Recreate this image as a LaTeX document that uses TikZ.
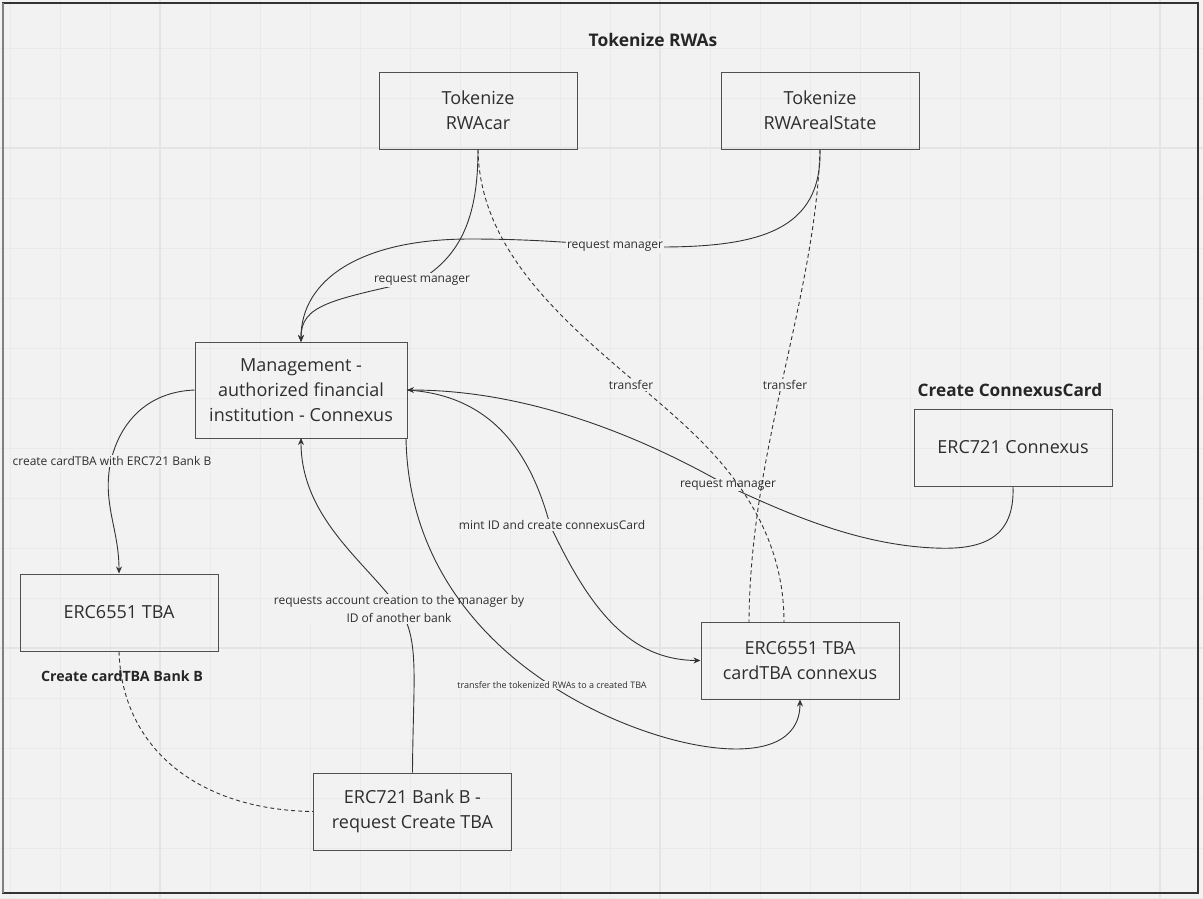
\documentclass[tikz,border=0pt]{standalone}
\usepackage{fontspec}
\setmainfont{Open Sans}
\usetikzlibrary{arrows.meta}
\definecolor{bgc}{HTML}{F2F2F2}
\definecolor{gridc}{HTML}{EAEAEA}
\definecolor{gridd}{HTML}{E4E4E4}
\definecolor{linec}{HTML}{333333}
\definecolor{boxc}{HTML}{505050}
\definecolor{textc}{HTML}{2E2E2E}
\tikzset{
  boxnode/.style={draw=boxc, line width=1pt, minimum width=198pt, minimum height=77pt,
    align=center, text=textc, font=\fontsize{18}{25}\selectfont, inner sep=0pt},
  lab/.style={fill=bgc, text=textc, font=\fontsize{12}{17}\selectfont, inner sep=1.2pt, align=center},
  smalllab/.style={fill=bgc, text=textc, font=\fontsize{9}{11}\selectfont, inner sep=1pt},
  titlenode/.style={text=black!85, font=\bfseries\fontsize{17.4}{21}\selectfont, inner sep=0pt},
  conn/.style={draw=linec, line width=0.9pt},
  arr/.style={conn, -{Stealth[length=7pt,width=6pt]}},
  dconn/.style={conn, dash pattern=on 4pt off 3pt},
}
\begin{document}
\begin{tikzpicture}[x=1pt,y=-1pt]
\useasboundingbox (0,0) rectangle (1203,898);
\fill[bgc] (0,0) rectangle (1203,898);
\foreach \x in {10,60,...,1200} \draw[gridc, line width=0.9pt] (\x,0) -- (\x,898);
\foreach \y in {48,98,...,898} \draw[gridc, line width=0.9pt] (0,\y) -- (1203,\y);
\foreach \x in {160,660,1160} \draw[gridd, line width=1.4pt] (\x,0) -- (\x,898);
\foreach \y in {148,648} \draw[gridd, line width=1.4pt] (0,\y) -- (1203,\y);
% frame
\draw[linec, line width=1.3pt] (3,3) rectangle (1198,893);
\draw[black!50, line width=2.2pt] (3,3) -- (3,893);

% titles
\node[titlenode] (t1) at (653,40) {Tokenize RWAs};
\node[titlenode, font=\bfseries\fontsize{17.2}{21}\selectfont] (t2) at (1010,390) {Create ConnexusCard};
\node[titlenode, font=\bfseries\fontsize{14.2}{17}\selectfont] (t3) at (122,676) {Create cardTBA Bank B};

% boxes
\node[boxnode] (car) at (478,110.5) {Tokenize\\RWAcar};
\node[boxnode] (state) at (820,110.5) {Tokenize\\RWArealState};
\node[boxnode, minimum width=212pt, minimum height=96pt] (mgmt) at (301,390) {Management -\\authorized financial\\institution - Connexus};
\node[boxnode] (conx) at (1013,447.5) {ERC721 Connexus};
\node[boxnode] (tba) at (119,612.5) {ERC6551 TBA};
\node[boxnode] (ctba) at (800,660.5) {ERC6551 TBA\\cardTBA connexus};
\node[boxnode] (bankb) at (412.5,811.5) {ERC721 Bank B -\\request Create TBA};

\coordinate (mtop) at (301,342);
\coordinate (mright) at (407,390);
\coordinate (mbot) at (301,438);
\coordinate (mbr) at (406,438);

% curve 1: car -> mgmt
\draw[arr] (car.south) .. controls (478,215) and (462,255) .. (420,280)
  .. controls (330,300) and (301,305) .. (mtop);
\node[lab] (l1) at (422,280) {request manager};
% curve 2: state -> mgmt
\draw[arr] (state.south) .. controls (822,230) and (760,247) .. (660,247)
  .. controls (600,247) and (560,239) .. (470,239)
  .. controls (360,239) and (301,280) .. (mtop);
\node[lab] (l2) at (615,246) {request manager};
% curve 5: connexus -> mgmt
\draw[arr] (conx.south) .. controls (1015,540) and (980,550) .. (935,548)
  .. controls (860,545) and (790,515) .. (728,486)
  .. controls (630,430) and (520,390) .. (mright);
\node[lab, inner sep=0.5pt] (l5) at (728,485) {request manager};
% curve 6: mgmt -> ctba
\draw[arr] (mright) .. controls (490,395) and (530,450) .. (550,525)
  .. controls (590,610) and (630,660) .. (ctba.west);
\node[lab] (l6) at (552,525) {mint ID and create connexusCard};
% curve 7: mgmt -> tba
\draw[arr] (mgmt.west) .. controls (145,392) and (118,425) .. (110,465)
  .. controls (103,505) and (119,530) .. (tba.north);
\node[lab] (l7) at (112,461) {create cardTBA with ERC721 Bank B};
% curve 8: bankb -> mgmt
\draw[arr] (bankb.north) .. controls (413,680) and (420,640) .. (400,610)
  .. controls (370,565) and (301,520) .. (mbot);
\node[lab, font=\fontsize{12}{17.7}\selectfont] (l8) at (399,609) {requests account creation to the manager by\\ID of another bank};
% curve 9: mgmt -> ctba bottom
\draw[arr] (mbr) .. controls (408,560) and (480,640) .. (552,686)
  .. controls (650,750) and (800,780) .. (ctba.south);
\node[smalllab] (l9) at (552,685) {transfer the tokenized RWAs to a created TBA};
% dashed
\coordinate (ct1) at (784,622);
\coordinate (ct2) at (749,622);
\draw[dconn] (car.south) .. controls (480,280) and (620,360) .. (700,440)
  .. controls (760,500) and (784,560) .. (ct1);
\draw[dconn] (state.south) .. controls (815,300) and (750,450) .. (ct2);
\node[lab] (l3) at (631,385) {transfer};
\node[lab] (l4) at (785,385) {transfer};
\draw[dconn] (tba.south) .. controls (122,750) and (200,810) .. (bankb.west);
\end{tikzpicture}
\end{document}
